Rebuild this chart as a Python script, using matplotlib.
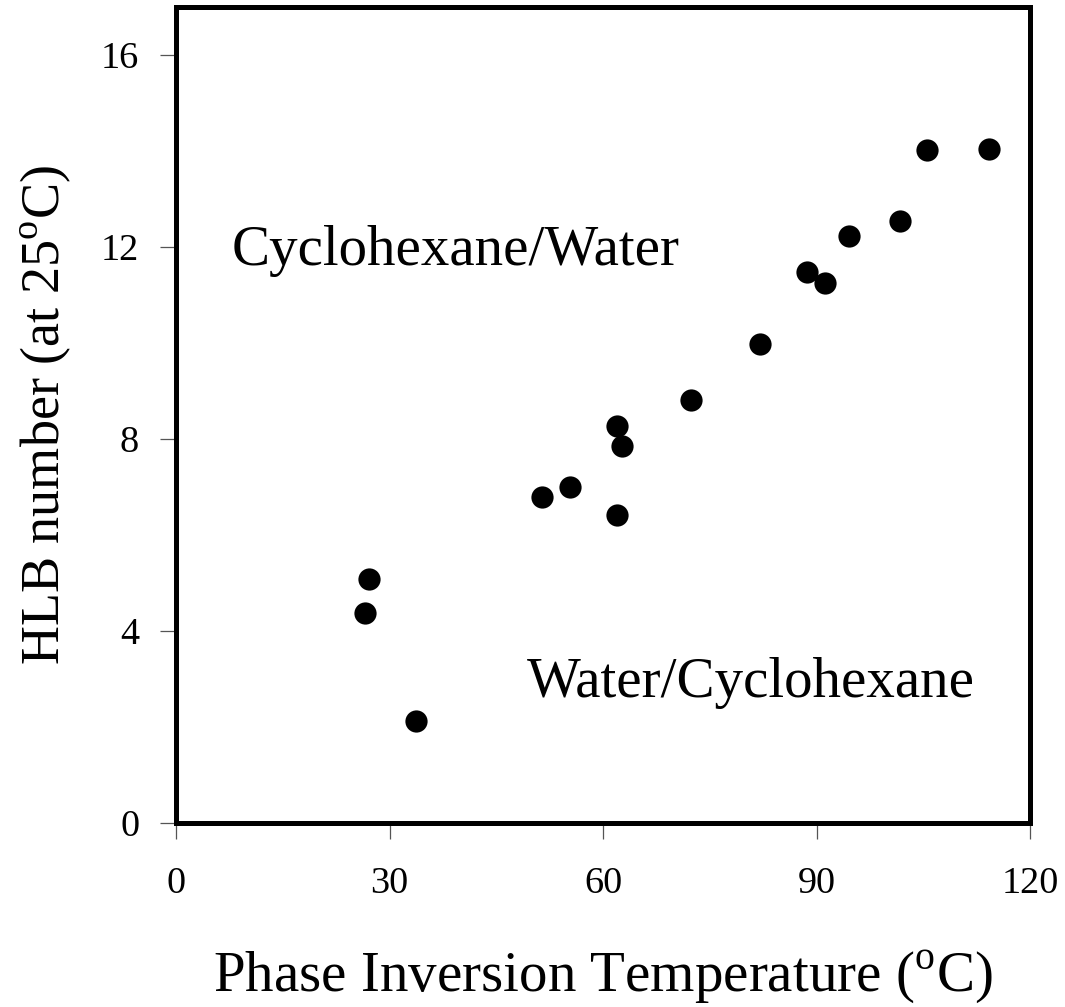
import matplotlib
matplotlib.use("Agg")
import matplotlib.pyplot as plt

# Phase inversion temperature (°C) vs HLB number at 25 °C
pit = [27.1, 26.5, 33.7, 51.4, 55.3, 61.9, 61.9, 62.6, 72.4, 82.0,
       88.6, 91.2, 94.6, 101.8, 105.5, 114.2]
hlb = [5.08, 4.38, 2.13, 6.79, 7.00, 6.42, 8.27, 7.85, 8.81, 9.98,
       11.48, 11.25, 12.23, 12.54, 14.02, 14.04]

x_ticks = [0, 30, 60, 90, 120]
y_ticks = [0, 4, 8, 12, 16]

plt.rcParams['font.family'] = ['Liberation Serif', 'DejaVu Serif']
plt.rcParams['mathtext.fontset'] = 'custom'
plt.rcParams['mathtext.rm'] = 'Liberation Serif'

fig = plt.figure(figsize=(10.65, 10.07), dpi=100)
ax = fig.add_axes([176 / 1065, 184 / 1007, (1030 - 176) / 1065, (823 - 7) / 1007])

ax.plot(pit, hlb, 'o', color='black', markersize=16, markeredgewidth=0)

ax.set_xlim(0, 120)
ax.set_ylim(0, 17.0)
ax.set_xticks(x_ticks)
ax.set_yticks(y_ticks)
ax.tick_params(direction='out', length=11.5, width=0.9, color='#555555',
               labelsize=27.5)
ax.tick_params(axis='x', pad=20)
ax.tick_params(axis='y', pad=15)

for s in ax.spines.values():
    s.set_linewidth(3.6)
    s.set_color('black')

ax.set_xlabel('Phase Inversion Temperature ($^{\\mathrm{o}}$C)', fontsize=41, labelpad=34)
ax.set_ylabel('HLB number (at 25$^{\\mathrm{o}}$C)', fontsize=39, labelpad=20)

ax.text(7.86, 11.62, 'Cyclohexane/Water', fontsize=41, ha='left', va='baseline')
ax.text(49.3, 2.62, 'Water/Cyclohexane', fontsize=41, ha='left', va='baseline')

fig.savefig('out.png', dpi=100)
